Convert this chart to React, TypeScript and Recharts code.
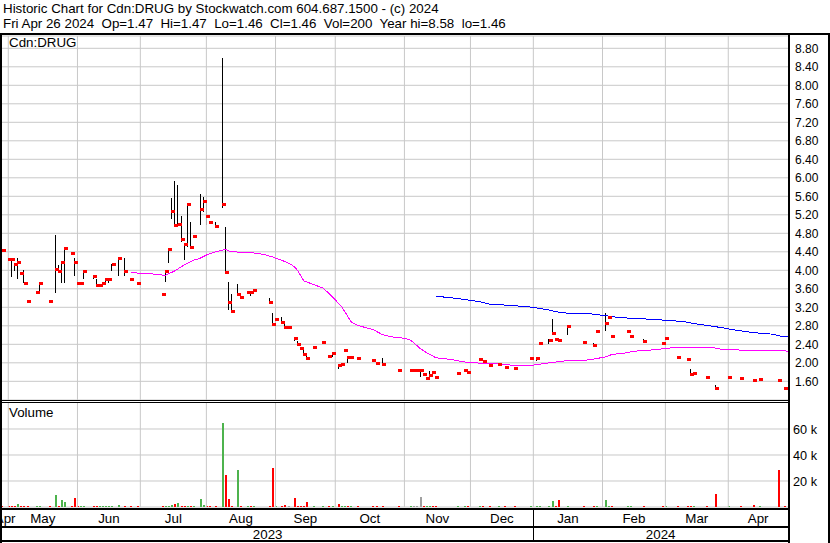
import {
  Bar,
  BarChart,
  CartesianGrid,
  Cell,
  ComposedChart,
  Line,
  ReferenceLine,
  Scatter,
  XAxis,
  YAxis,
} from "recharts";

// trading-day index (0 = first day shown, 250 = Apr 26 2024)
const tradeDays = [
  0, 2, 3, 4, 5, 6, 7, 8, 11, 12, 15, 17, 18, 19, 20, 22, 23, 24, 25, 26, 29, 30,
  31, 32, 33, 34, 35, 37, 39, 41, 43, 51, 52, 53, 54, 55, 56, 57, 58, 59, 60, 61,
  63, 64, 65, 66, 68, 70, 71, 72, 73, 75, 76, 78, 79, 80, 85, 86, 87, 89, 90, 91,
  93, 94, 95, 96, 97, 99, 102, 104, 105, 107, 108, 109, 110, 111, 113, 118, 119,
  121, 126, 130, 131, 132, 133, 134, 135, 136, 137, 138, 145, 147, 148, 152, 153,
  155, 158, 160, 163, 168, 170, 171, 174, 175, 176, 177, 180, 185, 188, 189, 192,
  193, 194, 199, 200, 204, 210, 211, 215, 218, 219, 220, 224, 227, 231, 235, 239,
  241, 247, 249,
];
const highs = [
  4.44, 4.25, 4.26, 4.14, 4.26, 3.95, 4.0, 3.34, 3.54, 3.73, 3.34, 4.76, 4.11, 4.19, 4.49, 4.38, 4.26, 4.26, 3.73, 4.0, 3.88, 3.81,
  3.69, 3.73, 3.81, 3.81, 4.14, 4.26, 4.26, 3.81, 3.73, 3.49, 4.0, 4.48, 5.57, 5.93, 5.84, 5.17, 4.56, 5.44, 5.05, 4.75,
  5.66, 5.58, 5.5, 5.04, 5.05, 8.58, 4.93, 3.74, 3.49, 3.7, 3.42, 3.54, 3.54, 3.58, 3.4, 3.07, 2.94, 3.0, 2.83, 2.78,
  2.54, 2.48, 2.33, 2.28, 2.21, 2.35, 2.46, 2.15, 2.22, 1.97, 1.97, 2.28, 2.15, 2.13, 2.11, 2.07, 2.0,
  2.1, 1.84, 1.85, 1.85, 1.85, 1.85, 1.76, 1.68, 1.83, 1.8, 1.7, 1.8, 1.85, 1.8, 2.08, 2.04,
  1.96, 1.97, 1.92, 1.89, 2.11, 2.11, 2.43, 2.51, 2.94, 2.52, 2.49, 2.81, 2.47, 2.42, 2.69, 3.08,
  2.99, 2.58, 2.69, 2.58, 2.51, 2.43, 2.54, 2.12, 2.08, 1.86, 1.79, 1.7, 1.51, 1.7, 1.68, 1.63,
  1.65, 1.63, 1.47,
];
const lows = [
  4.44, 4.25, 3.84, 3.99, 3.8, 3.95, 3.72, 3.34, 3.54, 3.5, 3.34, 3.5, 3.99, 3.73, 3.73, 4.38, 3.88, 3.73, 3.68, 3.81, 3.81, 3.69,
  3.69, 3.69, 3.73, 3.73, 3.99, 3.88, 3.88, 3.81, 3.73, 3.49, 3.73, 4.15, 5.11, 4.98, 4.98, 4.6, 4.21, 4.51, 4.5, 4.75,
  4.99, 5.25, 4.98, 5.04, 4.96, 5.34, 3.96, 3.13, 3.11, 3.45, 3.42, 3.54, 3.46, 3.58, 3.32, 2.8, 2.94, 2.89, 2.78, 2.78,
  2.47, 2.41, 2.33, 2.18, 2.11, 2.35, 2.46, 2.15, 2.13, 1.87, 1.97, 2.28, 1.99, 2.13, 2.11, 2.07, 2.0,
  1.96, 1.84, 1.85, 1.85, 1.85, 1.7, 1.76, 1.68, 1.66, 1.8, 1.7, 1.78, 1.85, 1.8, 2.08, 2.04,
  1.96, 1.97, 1.92, 1.89, 2.11, 2.04, 2.43, 2.41, 2.62, 2.52, 2.49, 2.59, 2.42, 2.39, 2.69, 2.69,
  2.99, 2.58, 2.69, 2.58, 2.46, 2.43, 2.54, 2.12, 2.08, 1.76, 1.79, 1.7, 1.46, 1.7, 1.68, 1.63,
  1.65, 1.63, 1.46,
];
const closes = [
  4.44, 4.25, 4.25, 4.14, 4.19, 3.95, 3.72, 3.34, 3.54, 3.73, 3.34, 4.03, 3.99, 4.19, 4.49, 4.38, 4.19, 3.73, 3.73, 3.99, 3.88, 3.69,
  3.69, 3.73, 3.81, 3.81, 4.14, 4.26, 3.99, 3.81, 3.73, 3.49, 3.99, 4.47, 5.28, 4.98, 5.01, 4.68, 4.56, 5.44, 4.51, 4.75,
  5.33, 5.5, 5.18, 5.04, 4.96, 5.44, 3.97, 3.32, 3.13, 3.49, 3.42, 3.54, 3.54, 3.58, 3.32, 2.84, 2.94, 2.89, 2.78, 2.78,
  2.53, 2.41, 2.33, 2.2, 2.11, 2.35, 2.46, 2.15, 2.22, 1.96, 1.97, 2.28, 2.13, 2.13, 2.11, 2.07, 2.0,
  1.97, 1.84, 1.85, 1.85, 1.85, 1.85, 1.76, 1.68, 1.74, 1.8, 1.7, 1.79, 1.85, 1.8, 2.08, 2.04,
  1.96, 1.97, 1.92, 1.89, 2.11, 2.11, 2.43, 2.49, 2.65, 2.52, 2.49, 2.8, 2.44, 2.39, 2.69, 2.85,
  2.99, 2.58, 2.69, 2.58, 2.47, 2.43, 2.54, 2.12, 2.08, 1.76, 1.79, 1.7, 1.46, 1.7, 1.68, 1.63,
  1.65, 1.63, 1.46,
];
const volumes = [
  400, 400, 400, 1000, 2600, 400, 600, 400, 400, 400, 400, 9200, 600, 5400, 4100, 400, 7200, 600, 400, 600, 500, 1000,
  400, 600, 600, 400, 400, 1800, 600, 400, 600, 400, 500, 600, 1500, 2600, 3000, 1000, 600, 600, 600, 400,
  6150, 1800, 1000, 600, 400, 64600, 24600, 6150, 500, 28500, 400, 500, 400, 500, 400, 30000, 500, 1000, 1800, 400,
  7200, 500, 400, 600, 4100, 600, 600, 400, 400, 2600, 400, 400, 400, 400, 400, 400, 400,
  400, 400, 400, 400, 400, 7900, 400, 400, 600, 400, 400, 400, 600, 400, 400, 400,
  400, 600, 400, 400, 400, 400, 400, 600, 4600, 400, 5600, 600, 400, 400, 400, 5400,
  400, 500, 400, 400, 600, 400, 400, 400, 400, 600, 600, 400, 9800, 400, 400, 1800,
  400, 28500, 200,
];
// u = up, d = down, n = unchanged
const volMoves = [
  "d", "d", "d", "d", "u", "d", "d", "d", "u", "u", "d", "u", "d", "u", "u", "d", "d", "d", "u", "u", "d", "d",
  "u", "u", "u", "u", "u", "u", "d", "d", "d", "d", "u", "u", "u", "d", "u", "d", "d", "u", "d", "u",
  "u", "u", "d", "d", "d", "u", "d", "d", "d", "u", "d", "u", "d", "u", "d", "d", "u", "d", "d", "n",
  "d", "d", "d", "d", "d", "u", "u", "d", "u", "d", "u", "u", "d", "u", "d", "d", "d",
  "d", "d", "u", "n", "n", "n", "d", "u", "u", "d", "d", "u", "u", "d", "u", "d",
  "d", "u", "d", "d", "u", "u", "u", "u", "u", "d", "d", "u", "d", "d", "u", "u",
  "u", "d", "u", "u", "d", "d", "u", "d", "d", "d", "u", "d", "d", "u", "d", "d",
  "u", "d", "d",
];

const shortMaDays = [
  41, 44, 48, 52, 55, 58, 61, 63, 65, 68, 71, 73, 77, 81, 84, 86, 88, 90, 92, 93, 94, 96, 98, 100, 102, 104,
  106, 108, 111, 113, 118, 121, 124, 128, 130, 133, 135, 138, 143, 147, 149, 155, 162, 169, 174, 179, 185,
  189, 192, 194, 198, 201, 207, 211, 214, 226, 229, 237, 248, 250,
];
const shortMaValues = [
  3.96, 3.93, 3.92, 3.89, 3.99, 4.12, 4.22, 4.26, 4.33, 4.4, 4.45, 4.4, 4.39, 4.37, 4.33, 4.29, 4.24, 4.19, 4.12, 4.08, 4.0, 3.77, 3.72, 3.67, 3.62, 3.5,
  3.36, 3.22, 2.89, 2.81, 2.72, 2.61, 2.56, 2.53, 2.49, 2.31, 2.22, 2.11, 2.07, 2.02, 2.0, 1.99, 1.95, 1.95, 2.0, 2.04, 2.05,
  2.09, 2.13, 2.18, 2.21, 2.25, 2.28, 2.31, 2.33, 2.33, 2.29, 2.27, 2.27, 2.25,
];
const longMaDays = [
  138, 145, 148, 152, 155, 162, 169, 174, 178, 187, 192, 196, 201, 207, 211, 217, 220, 224, 229, 233, 237,
  241, 245, 248, 250,
];
const longMaValues = [
  3.44, 3.39, 3.36, 3.32, 3.27, 3.24, 3.2, 3.14, 3.08, 3.06, 3.02, 2.98, 2.96, 2.94, 2.92, 2.89, 2.85, 2.81, 2.76, 2.71, 2.67,
  2.64, 2.62, 2.57, 2.56,
];

const LAST_DAY = 250;
const monthStarts = [2, 24, 44, 65, 87, 106, 128, 149, 169, 191, 211, 231];
const monthNames = ["Apr", "May", "Jun", "Jul", "Aug", "Sep", "Oct", "Nov", "Dec", "Jan", "Feb", "Mar", "Apr"];
const yearStart = 169;
const yearNames = ["2023", "2024"];
const priceTicks = [1.6, 2.0, 2.4, 2.8, 3.2, 3.6, 4.0, 4.4, 4.8, 5.2, 5.6, 6.0, 6.4, 6.8, 7.2, 7.6, 8.0, 8.4, 8.8];
const volumeTicks = [20000, 40000, 60000];

const GRID = "#c8c8c8";
const moveColors: Record<string, string> = { u: "#4db34d", d: "#ff0000", n: "#a0a0a0" };

const trades = tradeDays.map((d, i) => ({ d, range: [lows[i], highs[i]], c: closes[i] }));
const volRows = tradeDays.map((d, i) => ({ d, v: volumes[i], col: moveColors[volMoves[i]] }));
const shortMa = shortMaDays.map((d, i) => ({ d, ma: shortMaValues[i] }));
const longMa = longMaDays.map((d, i) => ({ d, ma: longMaValues[i] }));

const bounds = [0, ...monthStarts, LAST_DAY];
const monthMids = monthNames.map((_, i) => (bounds[i] + bounds[i + 1]) / 2);
const monthLabel = new Map(monthMids.map((m, i) => [m, monthNames[i]]));
const yearMids = [yearStart / 2, (yearStart + LAST_DAY) / 2];
const yearLabel = new Map(yearMids.map((m, i) => [m, yearNames[i]]));

const HiLo = (p: any) => {
  const h = Math.abs(p.height || 0);
  if (!h) return <g />;
  const top = Math.min(p.y, p.y + p.height);
  return <rect x={Math.floor(p.x + p.width / 2)} y={Math.round(top)} width={1} height={Math.max(1, Math.round(h))} fill="#000" />;
};

const CloseTick = (p: any) => (
  <rect x={Math.floor(p.cx)} y={Math.round(p.cy) - 1} width={4} height={3} fill="#ff0000" />
);

const VolBar = (p: any) => {
  const h = Math.max(1, Math.round(Math.abs(p.height || 0)));
  const base = Math.round(p.y + p.height);
  return <rect x={Math.round(p.x + p.width / 2) - 1} y={base - h} width={2} height={h} fill={p.fill} />;
};

const YearTick = (p: any) => {
  const v = p.payload.value;
  if (v === yearStart) {
    const x = Math.floor(p.x) + 0.5;
    return <line x1={x} x2={x} y1={p.y - 17} y2={p.y + 14} stroke="#000" />;
  }
  return (
    <text x={p.x} y={p.y + 12} textAnchor="middle" fontSize={13.33} fill="#000">
      {yearLabel.get(v)}
    </text>
  );
};

const line = (s: React.CSSProperties) => (
  <div style={{ position: "absolute", background: "#000", ...s }} />
);

export default function App() {
  return (
    <div
      style={{
        position: "absolute",
        left: 0,
        top: 0,
        width: 830,
        height: 543,
        background: "#fff",
        overflow: "hidden",
        fontFamily: "'Liberation Sans', Arial, sans-serif",
        color: "#000",
      }}
    >
      <div style={{ position: "absolute", left: 3, top: 1, fontSize: 13.33, lineHeight: "15px", whiteSpace: "pre" }}>
        {"Historic Chart for Cdn:DRUG by Stockwatch.com 604.687.1500 - (c) 2024"}
        <br />
        {"Fri Apr 26 2024  Op=1.47  Hi=1.47  Lo=1.46  Cl=1.46  Vol=200  Year hi=8.58  lo=1.46"}
      </div>

      <div style={{ position: "absolute", left: 0, top: 35 }}>
        <ComposedChart width={830} height={365} data={trades} margin={{ top: 1, right: 0, bottom: 0, left: 2 }}>
          <CartesianGrid vertical={false} stroke={GRID} />
          <XAxis type="number" dataKey="d" domain={[0, LAST_DAY]} allowDataOverflow hide />
          <YAxis
            orientation="right"
            width={42}
            domain={[1.196, 9.066]}
            ticks={priceTicks}
            interval={0}
            allowDataOverflow
            axisLine={false}
            tickLine={false}
            tickSize={5}
            tickMargin={2}
            tick={{ fontSize: 12, fill: "#000" }}
            tickFormatter={(v: number) => v.toFixed(2)}
          />
          {monthStarts.map((m) => (
            <ReferenceLine key={m} x={m} stroke={GRID} />
          ))}
          <Line
            data={shortMa}
            dataKey="ma"
            type="linear"
            stroke="#ff00ff"
            strokeWidth={1}
            shapeRendering="crispEdges"
            dot={false}
            isAnimationActive={false}
          />
          <Line
            data={longMa}
            dataKey="ma"
            type="linear"
            stroke="#0000ff"
            strokeWidth={1}
            shapeRendering="crispEdges"
            dot={false}
            isAnimationActive={false}
          />
          <Bar dataKey="range" barSize={1} shape={HiLo} isAnimationActive={false} />
          <Scatter data={trades} dataKey="c" shape={CloseTick} isAnimationActive={false} />
        </ComposedChart>
      </div>

      <div style={{ position: "absolute", left: 0, top: 402 }}>
        <BarChart width={830} height={141} data={volRows} margin={{ top: 0, right: 0, bottom: 1, left: 2 }}>
          <CartesianGrid vertical={false} stroke={GRID} />
          <XAxis
            type="number"
            dataKey="d"
            domain={[0, LAST_DAY]}
            allowDataOverflow
            ticks={monthMids}
            interval={0}
            height={20}
            axisLine={false}
            tickLine={false}
            tickSize={4}
            tickMargin={3}
            tick={{ fontSize: 13.33, fill: "#000" }}
            tickFormatter={(v: number) => monthLabel.get(v) ?? ""}
          />
          <XAxis
            xAxisId="year"
            type="number"
            dataKey="d"
            domain={[0, LAST_DAY]}
            allowDataOverflow
            ticks={[yearMids[0], yearStart, yearMids[1]]}
            interval={0}
            height={15}
            axisLine={false}
            tickLine={false}
            tickSize={0}
            tickMargin={0}
            tick={<YearTick />}
          />
          <YAxis
            orientation="right"
            width={42}
            domain={[0, 80769]}
            ticks={volumeTicks}
            interval={0}
            allowDataOverflow
            axisLine={false}
            tickLine={false}
            tickSize={3}
            tickMargin={2}
            tick={{ fontSize: 12.7, fill: "#000" }}
            tickFormatter={(v: number) => `${v / 1000} k`}
          />
          {monthStarts.map((m) => (
            <ReferenceLine key={m} x={m} stroke={GRID} />
          ))}
          <Bar dataKey="v" barSize={2} minPointSize={1} shape={VolBar} isAnimationActive={false}>
            {volRows.map((r) => (
              <Cell key={r.d} fill={r.col} />
            ))}
          </Bar>
        </BarChart>
      </div>

      <div style={{ position: "absolute", left: 9, top: 35, fontSize: 13.33, lineHeight: "15px" }}>Cdn:DRUG</div>
      <div style={{ position: "absolute", left: 9, top: 405, fontSize: 13.33, lineHeight: "15px" }}>Volume</div>

      {line({ left: 0, top: 33, width: 830, height: 2 })}
      {line({ left: 0, top: 33, width: 2, height: 510 })}
      {line({ left: 788, top: 33, width: 2, height: 510 })}
      {line({ left: 828, top: 33, width: 2, height: 510 })}
      {line({ left: 0, top: 400, width: 790, height: 1 })}
      {line({ left: 0, top: 402, width: 790, height: 1 })}
      {line({ left: 0, top: 508, width: 790, height: 2 })}
      {line({ left: 0, top: 526, width: 790, height: 2 })}
      {line({ left: 0, top: 540, width: 790, height: 2 })}
    </div>
  );
}
